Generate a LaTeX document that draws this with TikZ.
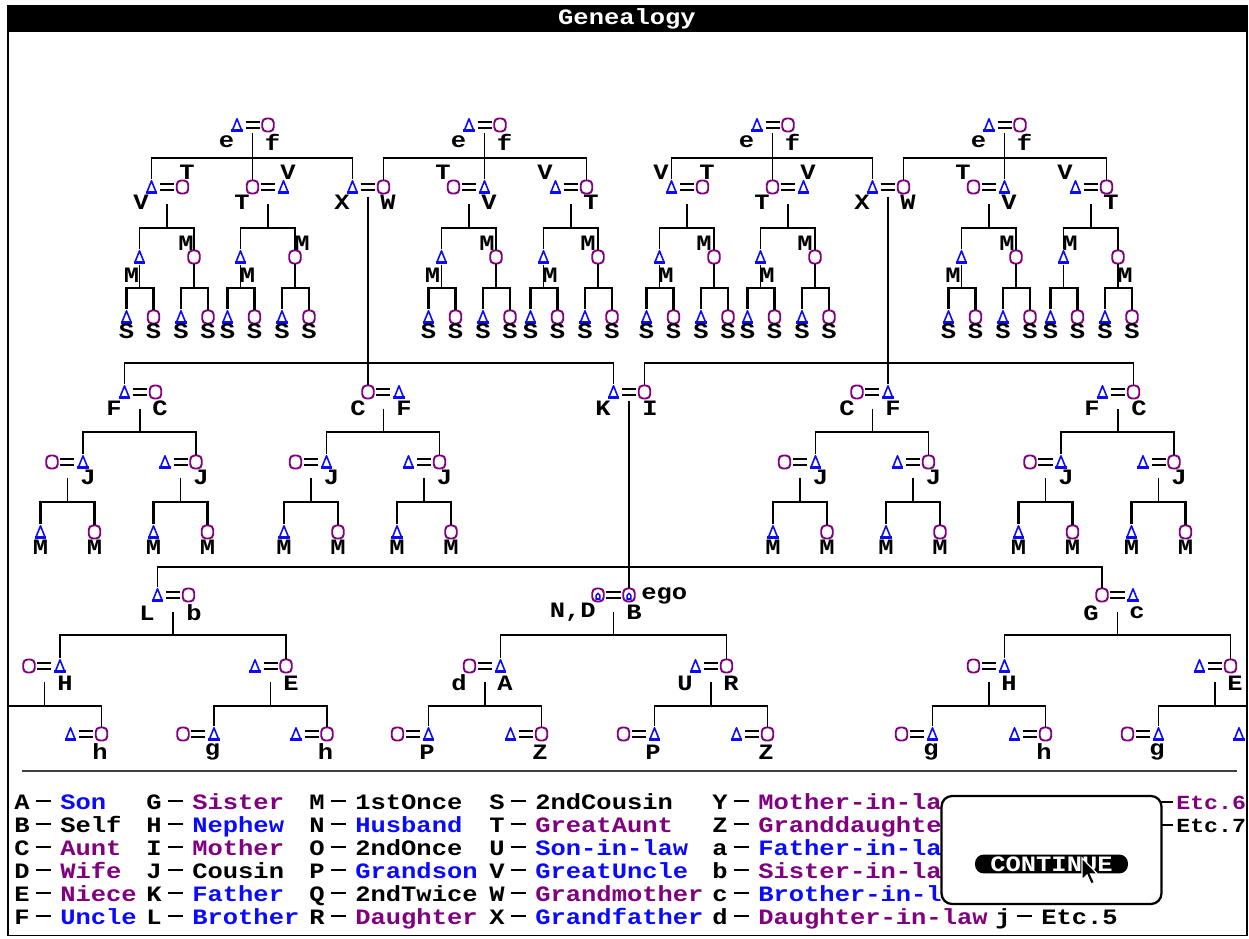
\documentclass[tikz,border=0pt]{standalone}
\usepackage{fontspec}
\usepackage{xcolor}
\newfontfamily\pixfont{Liberation Mono}[FakeStretch=1.16]
\usepackage{tikz}

\definecolor{kinblue}{RGB}{10,10,255}
\definecolor{kinpurple}{RGB}{128,0,128}

\newcommand\legdash{\hspace{0.12cm}\rule[0.3em]{0.3cm}{1.1pt}}
\newcommand\couple[5]{%
  \node[#4] (#1-l) at (#2-15.5,#3) {};
  \node[#5] (#1-r) at (#2+15.5,#3) {};
  \coordinate (#1) at (#2,#3);
  \draw[wed] (#1-l) -- (#1-r);
}

\tikzset{
  male/.style={rectangle, inner sep=0pt, minimum width=0.27cm, minimum height=0.29cm,
    path picture={
      \draw[kinblue, line width=0.9pt, line join=round]
        ([yshift=-0.6pt]path picture bounding box.north)
        -- ([shift={(1.2pt,1pt)}]path picture bounding box.south west)
        -- ([shift={(-1.2pt,1pt)}]path picture bounding box.south east) -- cycle;
      \draw[kinblue, line width=1.5pt]
        ([shift={(0.6pt,0.9pt)}]path picture bounding box.south west)
        -- ([shift={(-0.6pt,0.9pt)}]path picture bounding box.south east);
    }},
  female/.style={rectangle, rounded corners=2.4pt, draw=kinpurple, line width=1.1pt,
    inner sep=0pt, minimum width=0.23cm, minimum height=0.26cm},
  ego/.style={female,
    path picture={
      \draw[kinblue, line width=0.8pt]
        ([yshift=-1.5pt]path picture bounding box.north)
        -- ([shift={(1.2pt,1.2pt)}]path picture bounding box.south west)
        -- ([shift={(-1.2pt,1.2pt)}]path picture bounding box.south east) -- cycle;
    }},
  wed/.style={line width=1.1pt, double distance=2pt, shorten <=0.8pt, shorten >=0.8pt},
  kin/.style={line width=1pt},
  kinbold/.style={line width=1.6pt},
  lab/.style={font=\pixfont\bfseries\fontsize{12.5}{13}\selectfont, inner sep=0pt},
  leg/.style={lab, anchor=base west},
}

\begin{document}
\begin{tikzpicture}[x=0.02cm, y=-0.02cm]
\useasboundingbox (0,0) rectangle (1249,939);
\fill[white] (0,0) rectangle (1249,939);

% window
\fill[black] (7,5) rectangle (1248,32);
\draw[line width=1.1pt] (8,32) -- (8,935.5) -- (1247,935.5) -- (1247,32);
\node[lab, text=white] (title) at (627,19) {Genealogy};
\draw[line width=0.6pt, black!75] (22,771) -- (1237,771);

% great-grandparents, grandparents
\foreach \sh/\hf in {0/1, 520/2} {
  \couple{ggA\hf}{252.5+\sh}{125}{male}{female}
  \couple{ggB\hf}{484.5+\sh}{125}{male}{female}
  \couple{xw\hf}{368+\sh}{187}{male}{female}
}
\foreach \dx/\sa/\sb [count=\cnt] in {167/male/female, 268/female/male, 469/female/male, 571/male/female,
    687/male/female, 788/female/male, 989/female/male, 1091/male/female} {
  \couple{gu\cnt}{\dx}{187}{\sa}{\sb}
}
\foreach \hf/\ka/\kb/\kc/\kd in {1/1/2/3/4, 2/5/6/7/8} {
  \draw[kin] (ggA\hf) ++(0,8) -- (gu\kb-l);
  \draw[kin] (gu\ka-l) |- (ggA\hf |- 0,158) -| (xw\hf-l);
  \draw[kin] (ggB\hf) ++(0,8) -- (gu\kc-r);
  \draw[kin] (xw\hf-r) |- (ggB\hf |- 0,158) -| (gu\kd-r);
}
\foreach \xx/\yy/\tx [count=\cnt] in {226.5/142/e, 272.5/142/f, 458.5/142/e, 504.5/142/f,
    746.5/142/e, 792.5/142/f, 978.5/142/e, 1024.5/142/f,
    141/202/V, 187/172/T, 242/202/T, 288/172/V, 342/202/X, 388/202/W,
    443/172/T, 489/202/V, 545/172/V, 591/202/T,
    661/172/V, 707/172/T, 762/202/T, 808/172/V, 862/202/X, 908/202/W,
    963/172/T, 1009/202/V, 1065/172/V, 1111/202/T}
  \node[lab] (top\cnt) at (\xx,\yy) {\tx};

% first and second cousins once removed
\foreach \dx/\ax/\ay/\bx/\by [count=\cnt] in {167/131.5/275/186/243, 268/247.5/275/302/243,
    469/432.5/275/487/243, 571/550/275/588/243, 687/666/275/704/243,
    788/767/275/805/243, 989/953/275/1007/243, 1091/1070/243/1125/275} {
  \node[male]   (ma\cnt) at (\dx-27.5,257) {};
  \node[female] (mb\cnt) at (\dx+27,257) {};
  \node[lab] (mal\cnt) at (\ax,\ay) {M};
  \node[lab] (mbl\cnt) at (\bx,\by) {M};
  \draw[kin] (gu\cnt) ++(0,17) -- (gu\cnt |- 0,228);
  \draw[kin] (ma\cnt) |- (gu\cnt |- 0,228) -| (mb\cnt);
  \node[male]   (sa\cnt) at (\dx-40.5,317) {};
  \node[female] (sb\cnt) at (\dx-13.5,317) {};
  \node[male]   (sc\cnt) at (\dx+14,317) {};
  \node[female] (sd\cnt) at (\dx+41,317) {};
  \draw[kin] (ma\cnt) -- (ma\cnt |- 0,288);
  \draw[kin] (mb\cnt) -- (mb\cnt |- 0,288);
  \draw[kinbold] (sa\cnt) |- (ma\cnt |- 0,288) -| (sb\cnt);
  \draw[kinbold] (sc\cnt) |- (mb\cnt |- 0,288) -| (sd\cnt);
  \foreach \nm in {sa,sb,sc,sd}
    \node[lab] (\nm\cnt-s) at (\nm\cnt |- 0,331) {S};
}

% parents, uncles and aunts
\couple{mu1}{140}{392}{male}{female}
\couple{mu2}{383.5}{392}{female}{male}
\couple{par}{629}{392}{male}{female}
\couple{mu3}{872.5}{392}{female}{male}
\couple{mu4}{1118}{392}{male}{female}
\draw[kinbold] (xw1) ++(0,10) -- (mu2-l);
\draw[kinbold] (xw2) ++(0,10) -- (mu3-r);
\draw[kin] (mu1-l) |- (mu2-l |- 0,363) -| (par-l);
\draw[kin] (par-r) |- (mu3-r |- 0,363) -| (mu4-r);
\foreach \xx/\tx [count=\cnt] in {114/F, 160/C, 358/C, 404/F, 603/K, 650/I, 847/C, 893/F, 1092/F, 1139/C}
  \node[lab] (mid\cnt) at (\xx,408) {\tx};

\foreach \mm [count=\cnt] in {140,383.5,872.5,1118} {
  \couple{ja\cnt}{\mm-72.5}{462}{female}{male}
  \couple{jb\cnt}{\mm+40.5}{462}{male}{female}
  \draw[kin] (mu\cnt) ++(0,17) -- (mu\cnt |- 0,432);
  \draw[kin] (ja\cnt-r) |- (mu\cnt |- 0,432) -| (jb\cnt-r);
  \node[lab] (jal\cnt) at (\mm-52,477) {J};
  \node[lab] (jbl\cnt) at (\mm+61,477) {J};
}
\foreach \jx/\nm in {67.5/ja1, 180.5/jb1, 311/ja2, 424/jb2, 800/ja3, 913/jb3, 1045.5/ja4, 1158.5/jb4} {
  \node[male]   (\nm-x) at (\jx-27,532) {};
  \node[female] (\nm-y) at (\jx+27,532) {};
  \node[lab] (\nm-xl) at (\jx-27,547) {M};
  \node[lab] (\nm-yl) at (\jx+27,547) {M};
  \draw[kin] (\nm) ++(0,16) -- (\nm |- 0,502);
  \draw[kinbold] (\nm-x) |- (\nm |- 0,502) -| (\nm-y);
}

% ego and siblings
\couple{lb}{173}{595}{male}{female}
\couple{egc}{613.5}{595}{ego}{ego}
\couple{gc}{1117.5}{595}{female}{male}
\draw[kinbold] (par) ++(0,9) -- (egc-r);
\draw[kin] (lb-l) |- (egc-r |- 0,567) -| (gc-l);
\node[lab] (lbl) at (147,613) {L};
\node[lab] (lbr) at (194,613) {b};
\node[lab, anchor=east] (egl) at (596,612) {N,D};
\node[lab] (egr) at (634,612) {B};
\node[lab, anchor=west] (egname) at (641,596) {ego};
\node[lab] (gcl) at (1091,613) {G};
\node[lab] (gcr) at (1137,613) {c};

\couple{hl1}{44.5}{666}{female}{male}
\couple{el1}{270.5}{666}{male}{female}
\couple{da}{485}{666}{female}{male}
\couple{ur}{711}{666}{male}{female}
\couple{hl2}{989}{666}{female}{male}
\couple{el2}{1215}{666}{male}{female}
\foreach \nm/\la/\lr in {lb/hl1/el1, egc/da/ur, gc/hl2/el2} {
  \draw[kin] (\nm) ++(0,17) -- (\nm |- 0,635);
  \draw[kin] (\la-r) |- (\nm |- 0,635) -| (\lr-r);
}
\foreach \xx/\tx [count=\cnt] in {65/H, 291/E, 459/d, 505/A, 685/U, 731/R, 1009/H, 1235/E}
  \node[lab] (low\cnt) at (\xx,683) {\tx};

% grandchildren, nephews and nieces
\foreach \pp/\nm/\lg/\lh [count=\cnt] in {270.5/el1/g/h, 485/da/P/Z, 711/ur/P/Z, 989/hl2/g/h} {
  \couple{ga\cnt}{\pp-72}{734}{female}{male}
  \couple{gb\cnt}{\pp+41}{734}{male}{female}
  \draw[kin] (\nm) ++(0,16) -- (\nm |- 0,706);
  \draw[kin] (ga\cnt-r) |- (\nm |- 0,706) -| (gb\cnt-r);
  \node[lab] (gal\cnt) at (\pp-58,752) {\lg};
  \node[lab] (gbl\cnt) at (\pp+55,752) {\lh};
}
\couple{hh}{86}{734}{male}{female}
\coordinate (edgeL) at (8,706);
\draw[kin] (hl1) ++(0,16) -- (hl1 |- 0,706);
\draw[kin] (edgeL) -| (hh-r);
\node[lab] (hhl) at (100,752) {h};
\couple{ge}{1143}{734}{female}{male}
\node[male] (gcut) at (1239,734) {};
\coordinate (edgeR) at (1247,706);
\draw[kin] (el2) ++(0,16) -- (el2 |- 0,706);
\draw[kin] (ge-r) |- (edgeR);
\node[lab] (gel) at (1157,752) {g};

% legend
\foreach \lx/\ly/\lk/\lc/\lw [count=\cnt] in {
    14/803/A/kinblue/Son, 14/826/B/black/Self, 14/849/C/kinpurple/Aunt,
    14/872/D/kinpurple/Wife, 14/895/E/kinpurple/Niece, 14/918/F/kinblue/Uncle,
    146/803/G/kinpurple/Sister, 146/826/H/kinblue/Nephew, 146/849/I/kinpurple/Mother,
    146/872/J/black/Cousin, 146/895/K/kinblue/Father, 146/918/L/kinblue/Brother,
    309/803/M/black/1stOnce, 309/826/N/kinblue/Husband, 309/849/O/black/2ndOnce,
    309/872/P/kinblue/Grandson, 309/895/Q/black/2ndTwice, 309/918/R/kinpurple/Daughter,
    489/803/S/black/2ndCousin, 489/826/T/kinpurple/GreatAunt, 489/849/U/kinblue/Son-in-law,
    489/872/V/kinblue/GreatUncle, 489/895/W/kinpurple/Grandmother, 489/918/X/kinblue/Grandfather,
    712/803/Y/kinpurple/Mother-in-la, 712/826/Z/kinpurple/Granddaughte, 712/849/a/kinblue/Father-in-la,
    712/872/b/kinpurple/Sister-in-la, 712/895/c/kinblue/Brother-in-l, 712/918/d/kinpurple/Daughter-in-law,
    995/918/j/black/Etc.5}
  \node[leg] (key\cnt) at (\lx,\ly+6) {\makebox[0.92cm][l]{\lk\legdash}\textcolor{\lc}{\lw}};
\node[leg, font=\pixfont\bfseries\fontsize{11.4}{12}\selectfont] (keyE6) at (1150,809)
  {\rule[0.3em]{0.46cm}{1.1pt}\hspace{0.06cm}\textcolor{kinpurple}{Etc.6}};
\node[leg, font=\pixfont\bfseries\fontsize{11.4}{12}\selectfont] (keyE7) at (1150,832)
  {\rule[0.3em]{0.46cm}{1.1pt}\hspace{0.06cm}Etc.7};

% dialog
\node[draw, line width=1.3pt, fill=white, rounded corners=6pt, inner sep=0pt,
  minimum width=4.4cm, minimum height=2.16cm] (dialog) at (1051.5,850) {};
\node[lab, fill=black, text=white, rounded corners=5pt, minimum width=3.06cm,
  minimum height=0.38cm] (continue) at (1051.5,864) {CONTINUE};
\filldraw[fill=black, draw=white, line width=0.7pt] (1082,858) -- ++(0,22) -- ++(5,-5)
  -- ++(4,9) -- ++(3.5,-1.5) -- ++(-4,-8.5) -- ++(7,0) -- cycle;
\end{tikzpicture}
\end{document}
